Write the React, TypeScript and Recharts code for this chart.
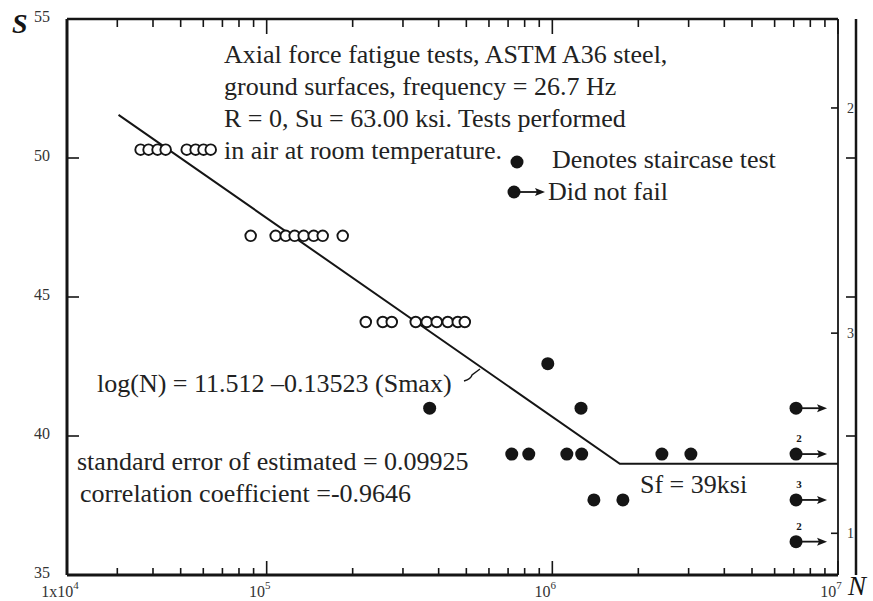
import React from 'react';
import { ScatterChart, Scatter, XAxis, YAxis, Legend, Customized } from 'recharts';

const FONT = '"Liberation Serif", "Times New Roman", Times, serif';
const INK = '#151515';
const TICK_INK = '#333333';
const TEXT_SIZE = 26;

// Regular constant-amplitude tests (cycles to failure N, max stress S in ksi)
const ordinaryTests = [
  { n: 36200, s: 50.3 }, { n: 38600, s: 50.3 }, { n: 41500, s: 50.3 }, { n: 44300, s: 50.3 },
  { n: 52500, s: 50.3 }, { n: 56400, s: 50.3 }, { n: 60100, s: 50.3 }, { n: 63700, s: 50.3 },
  { n: 87900, s: 47.2 }, { n: 107500, s: 47.2 }, { n: 116600, s: 47.2 }, { n: 125300, s: 47.2 },
  { n: 134800, s: 47.2 }, { n: 146100, s: 47.2 }, { n: 157100, s: 47.2 }, { n: 184600, s: 47.2 },
  { n: 222300, s: 44.1 }, { n: 254900, s: 44.1 }, { n: 274100, s: 44.1 }, { n: 332500, s: 44.1 },
  { n: 363400, s: 44.1 }, { n: 393900, s: 44.1 }, { n: 430500, s: 44.1 }, { n: 466700, s: 44.1 },
  { n: 493800, s: 44.1 },
];

// Staircase tests that failed
const staircaseTests = [
  { n: 372000, s: 41.0 }, { n: 964000, s: 42.6 }, { n: 1260000, s: 41.0 },
  { n: 721000, s: 39.35 }, { n: 827000, s: 39.35 }, { n: 1124000, s: 39.35 },
  { n: 1267000, s: 39.35 }, { n: 2418000, s: 39.35 }, { n: 3055000, s: 39.35 },
  { n: 1398000, s: 37.7 }, { n: 1766000, s: 37.7 },
];

// Run-outs (did not fail); count = number of specimens at that point
const runOuts = [
  { n: 7130000, s: 41.0, count: 1 },
  { n: 7130000, s: 39.35, count: 2 },
  { n: 7130000, s: 37.7, count: 3 },
  { n: 7130000, s: 36.2, count: 2 },
];

// Fitted S-N curve with the fatigue limit Sf = 39 ksi
const fitLine = [
  { n: 30300, s: 51.55 },
  { n: 1723000, s: 39 },
  { n: 10000000, s: 39 },
];

const xDomain = [20000, 10000000];
const xMajorTicks = [20000, 100000, 1000000, 10000000];
const xMajorLabels = [['1x10', '4'], ['10', '5'], ['10', '6'], ['10', '7']];
const xMinorTicks = [
  30000, 40000, 50000, 60000, 70000, 80000, 90000,
  200000, 300000, 400000, 500000, 600000, 700000, 800000, 900000,
  2000000, 3000000, 4000000, 5000000, 6000000, 7000000, 8000000, 9000000,
];
const xTicks = [...xMajorTicks, ...xMinorTicks].sort((a, b) => a - b);

const yDomain = [35, 55];
const yTicks = [35, 40, 45, 50, 55];
const rightTicks = [40, 45, 50];
const outerTicks = [51.8, 43.7, 36.5];
const outerTickLabels = ['2', '3', '1'];

const infoLines = [
  'Axial force fatigue tests, ASTM A36 steel,',
  'ground surfaces, frequency = 26.7 Hz',
  'R = 0, Su = 63.00 ksi. Tests performed',
  'in air at room temperature.',
];
const equationText = 'log(N) = 11.512 \u20130.13523 (Smax)';
const stdErrorText = 'standard error of estimated = 0.09925';
const correlationText = 'correlation coefficient =-0.9646';
const limitText = 'Sf = 39ksi';
const legendItems = ['Denotes staircase test', 'Did not fail'];

const BottomTick = (props: any) => {
  const { x, y, payload } = props;
  const idx = xMajorTicks.indexOf(payload.value);
  const major = idx >= 0;
  return (
    <g>
      <line x1={x} x2={x} y1={y} y2={y - (major ? 14 : 7)} stroke={INK} strokeWidth={1.6} />
      {major && (
        <text x={x - 7} y={y + 22} textAnchor="middle" fontFamily={FONT} fontSize={16} fill={TICK_INK}>
          {xMajorLabels[idx][0]}
          <tspan fontSize={11} dy={-8}>{xMajorLabels[idx][1]}</tspan>
        </text>
      )}
    </g>
  );
};

const TopTick = (props: any) => {
  const { x, y, payload } = props;
  const major = xMajorTicks.indexOf(payload.value) >= 0;
  return <line x1={x} x2={x} y1={y} y2={y + (major ? 15 : 8)} stroke={INK} strokeWidth={1.6} />;
};

const LeftTick = (props: any) => {
  const { x, y, payload } = props;
  return (
    <g>
      <line x1={x} x2={x + 12} y1={y} y2={y} stroke={INK} strokeWidth={1.6} />
      <text x={x - 17} y={y - 3} dy="0.35em" textAnchor="end" fontFamily={FONT} fontSize={16} fill={TICK_INK}>
        {payload.value}
      </text>
    </g>
  );
};

const RightTick = (props: any) => {
  const { x, y } = props;
  return <line x1={x} x2={x - 10} y1={y} y2={y} stroke={INK} strokeWidth={1.6} />;
};

const OuterTick = (props: any) => {
  const { x, y, index } = props;
  return (
    <g>
      <line x1={x} x2={x - 7} y1={y} y2={y} stroke={INK} strokeWidth={1.6} />
      <text x={x + 9} y={y} dy="0.35em" fontFamily={FONT} fontSize={14} fill={TICK_INK}>
        {outerTickLabels[index]}
      </text>
    </g>
  );
};

const OpenCircle = (props: any) => {
  const { cx, cy } = props;
  return <circle cx={cx} cy={cy} r={5.3} fill="#ffffff" stroke={INK} strokeWidth={1.9} />;
};

const FilledDot = (props: any) => {
  const { cx, cy } = props;
  return <circle cx={cx} cy={cy} r={6.5} fill={INK} />;
};

const RunOutMarker = (props: any) => {
  const { cx, cy, payload } = props;
  return (
    <g>
      <circle cx={cx} cy={cy} r={6.5} fill={INK} />
      <line x1={cx} x2={cx + 26} y1={cy} y2={cy} stroke={INK} strokeWidth={1.8} />
      <path d={`M${cx + 31},${cy} L${cx + 21},${cy - 4} L${cx + 23},${cy} L${cx + 21},${cy + 4} Z`} fill={INK} />
      {payload.count > 1 && (
        <text x={cx + 3} y={cy - 12} textAnchor="middle" fontFamily={FONT} fontSize={11} fontWeight="bold" fill={INK}>
          {payload.count}
        </text>
      )}
    </g>
  );
};

const NoMarker = () => <g />;

const Annotations = () => (
  <g fontFamily={FONT} fill="#222222">
    <text x={12} y={33} fontSize={28} fontWeight="bold" fontStyle="italic" fill={INK}>S</text>
    <text x={848} y={595} fontSize={27} fontStyle="italic" fill={INK}>N</text>
    {infoLines.map((line, i) => (
      <text key={line} x={224} y={63 + i * 32} fontSize={TEXT_SIZE}>{line}</text>
    ))}
    <text x={97} y={392} fontSize={TEXT_SIZE}>{equationText}</text>
    <path d="M464,381 Q471,379 472,375 L480,369" fill="none" stroke={INK} strokeWidth={1.4} />
    <text x={77} y={470} fontSize={TEXT_SIZE}>{stdErrorText}</text>
    <text x={80} y={502} fontSize={TEXT_SIZE}>{correlationText}</text>
    <text x={640} y={493} fontSize={TEXT_SIZE}>{limitText}</text>
  </g>
);

const LegendBox = () => (
  <svg width={300} height={70} style={{ display: 'block', overflow: 'visible' }}>
    <g fontFamily={FONT} fill="#222222">
      <circle cx={17} cy={22} r={6.5} fill={INK} />
      <text x={52} y={28} fontSize={TEXT_SIZE}>{legendItems[0]}</text>
      <circle cx={14} cy={52} r={6.5} fill={INK} />
      <line x1={14} x2={40} y1={52} y2={52} stroke={INK} strokeWidth={1.8} />
      <path d="M45,52 L35,48 L37,52 L35,56 Z" fill={INK} />
      <text x={48} y={60} fontSize={TEXT_SIZE}>{legendItems[1]}</text>
    </g>
  </svg>
);

export default function App() {
  return (
    <div style={{ position: 'absolute', left: 0, top: 0, width: 873, height: 601, overflow: 'hidden', background: '#ffffff' }}>
      <ScatterChart width={873} height={601} margin={{ top: 0, right: 0, bottom: 0, left: 0 }}>
        <XAxis
          dataKey="n"
          type="number"
          scale="log"
          domain={xDomain}
          ticks={xTicks}
          interval={0}
          allowDataOverflow
          height={26}
          tickSize={0}
          tickMargin={0}
          tickLine={false}
          axisLine={{ stroke: INK, strokeWidth: 3 }}
          tick={<BottomTick />}
        />
        <XAxis
          xAxisId="top"
          orientation="top"
          dataKey="n"
          type="number"
          scale="log"
          domain={xDomain}
          ticks={xTicks}
          interval={0}
          allowDataOverflow
          height={19}
          tickSize={0}
          tickMargin={0}
          tickLine={false}
          axisLine={{ stroke: INK, strokeWidth: 2.5 }}
          tick={<TopTick />}
        />
        <YAxis
          dataKey="s"
          type="number"
          domain={yDomain}
          ticks={yTicks}
          interval={0}
          allowDataOverflow
          width={67}
          tickSize={0}
          tickMargin={0}
          tickLine={false}
          axisLine={{ stroke: INK, strokeWidth: 3 }}
          tick={<LeftTick />}
        />
        <YAxis
          yAxisId="right"
          orientation="right"
          dataKey="s"
          type="number"
          domain={yDomain}
          ticks={rightTicks}
          interval={0}
          allowDataOverflow
          width={17}
          tickSize={0}
          tickMargin={0}
          tickLine={false}
          axisLine={{ stroke: INK, strokeWidth: 2.5 }}
          tick={<RightTick />}
        />
        <YAxis
          yAxisId="outer"
          orientation="right"
          dataKey="s"
          type="number"
          domain={yDomain}
          ticks={outerTicks}
          interval={0}
          allowDataOverflow
          width={18}
          tickSize={0}
          tickMargin={0}
          tickLine={false}
          axisLine={{ stroke: INK, strokeWidth: 1.8 }}
          tick={<OuterTick />}
        />
        <Legend
          layout="horizontal"
          verticalAlign="middle"
          align="center"
          width={300}
          height={70}
          wrapperStyle={{ left: 500, top: 140, width: 300, height: 70 }}
          content={<LegendBox />}
        />
        <Scatter
          name="S-N curve"
          data={fitLine}
          line={{ stroke: INK, strokeWidth: 2 }}
          lineType="joint"
          shape={<NoMarker />}
          legendType="none"
          isAnimationActive={false}
        />
        <Scatter name="Tests" data={ordinaryTests} shape={<OpenCircle />} isAnimationActive={false} />
        <Scatter name="Denotes staircase test" data={staircaseTests} shape={<FilledDot />} isAnimationActive={false} />
        <Scatter name="Did not fail" data={runOuts} shape={<RunOutMarker />} isAnimationActive={false} />
        <Customized component={Annotations} />
      </ScatterChart>
    </div>
  );
}
